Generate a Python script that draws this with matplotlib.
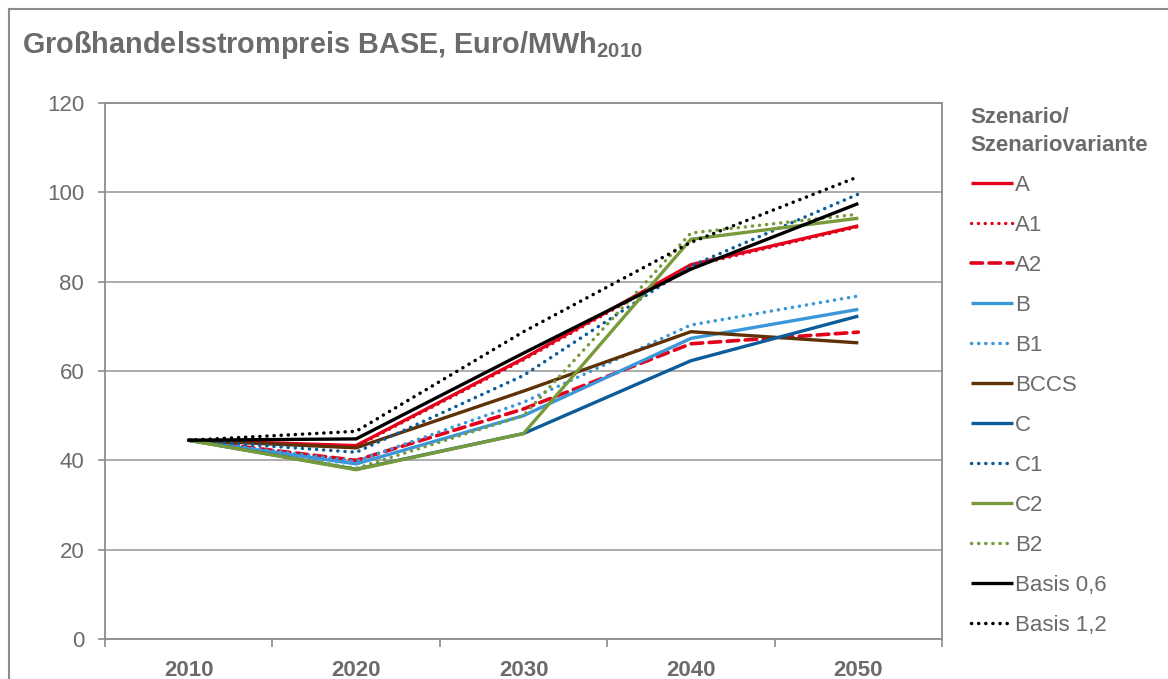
import matplotlib
matplotlib.use("Agg")
import matplotlib.pyplot as plt
from matplotlib.lines import Line2D

plt.rcParams['font.family'] = ['Liberation Sans', 'DejaVu Sans']
plt.rcParams['mathtext.fontset'] = 'custom'
plt.rcParams['mathtext.rm'] = 'Liberation Sans'
plt.rcParams['mathtext.bf'] = 'Liberation Sans:bold'

years = ['2010', '2020', '2030', '2040', '2050']
series_names = ['A', 'A1', 'A2', 'B', 'B1', 'BCCS', 'C', 'C1', 'C2', 'B2', 'Basis 0,6', 'Basis 1,2']
A_vals = [44.5, 43.3, 62.8, 83.8, 92.5]
A1_vals = [44.5, 43.1, 62.5, 83.5, 92.3]
A2_vals = [44.5, 40.0, 51.5, 66.1, 68.7]
B_vals = [44.5, 39.2, 50.0, 67.3, 73.8]
B1_vals = [44.5, 39.8, 53.0, 70.3, 76.8]
BCCS_vals = [44.5, 42.8, 55.5, 68.8, 66.3]
C_vals = [44.5, 38.0, 46.0, 62.3, 72.3]
C1_vals = [44.5, 41.8, 59.0, 83.5, 99.6]
C2_vals = [44.5, 37.9, 46.0, 89.5, 94.2]
B2_vals = [44.5, 38.2, 50.0, 90.9, 95.1]
Basis06_vals = [44.5, 44.8, 64.0, 82.8, 97.5]
Basis12_vals = [44.5, 46.5, 68.8, 88.8, 103.5]

RED = '#E2001A'
LBLUE = '#3A97DA'
BROWN = '#5E3206'
DBLUE = '#0B5C99'
GREEN = '#779A3A'
BLACK = '#000000'
GRAY_TXT = '#6B6B6B'

dot = (0, (0.05, 2.0))
dash = (0, (3.2, 1.8))
styles = [
    (A_vals, RED, '-', 2.4),
    (A1_vals, RED, dot, 2.4),
    (A2_vals, RED, dash, 2.6),
    (B_vals, LBLUE, '-', 2.4),
    (B1_vals, LBLUE, dot, 2.5),
    (BCCS_vals, BROWN, '-', 2.4),
    (C_vals, DBLUE, '-', 2.4),
    (C1_vals, DBLUE, dot, 2.5),
    (C2_vals, GREEN, '-', 2.4),
    (B2_vals, GREEN, dot, 2.5),
    (Basis06_vals, BLACK, '-', 2.4),
    (Basis12_vals, BLACK, dot, 2.5),
]

fig = plt.figure(figsize=(11.68, 6.79), dpi=100)
ax = fig.add_axes([105/1168, 1-639/679, (942-105)/1168, (639-103)/679])

x = list(range(len(years)))
handles = []
for (vals, col, ls, lw), name in zip(styles, series_names):
    ln, = ax.plot(x, vals, color=col, linestyle=ls, linewidth=lw,
                  solid_capstyle='butt', dash_capstyle='round', label=name)
    handles.append(ln)

ax.set_xlim(-0.5, 4.5)
ax.set_ylim(0, 120)
ax.set_yticks(range(0, 121, 20))
ax.set_xticks(x)
ax.set_xticklabels(years, fontweight='bold')
ax.set_xticks([i - 0.5 for i in range(6)], minor=True)
ax.tick_params(axis='x', which='major', length=0, pad=15, labelsize=16, colors=GRAY_TXT)
ax.tick_params(axis='x', which='minor', length=6, width=1.2, color='#8C8C8C', direction='out')
ax.tick_params(axis='y', length=5, width=1.2, color='#8C8C8C', pad=10, labelsize=16, labelcolor=GRAY_TXT)
ax.grid(axis='y', color='#A6A6A6', linewidth=1.3)
ax.set_axisbelow(True)
for s in ax.spines.values():
    s.set_color('#8C8C8C')
    s.set_linewidth(1.3)

fig.text(22/1168, 1-45/679, 'Großhandelsstrompreis BASE, Euro/MWh$_{\\mathbf{2010}}$',
         fontsize=20.8, fontweight='bold', color=GRAY_TXT, va='center', ha='left')

leg = ax.legend(handles=handles, loc='upper left', bbox_to_anchor=(964/1168, 1-100/679),
                bbox_transform=fig.transFigure, frameon=False, fontsize=16,
                handlelength=1.9, handletextpad=0.1, labelspacing=0.855,
                title='Szenario/\nSzenariovariante', alignment='left',
                borderaxespad=0, borderpad=0.3)
for t in leg.get_texts():
    t.set_color(GRAY_TXT)
leg.get_title().set_fontweight('bold')
leg.get_title().set_fontsize(16)
leg.get_title().set_color(GRAY_TXT)
leg.get_title().set_linespacing(1.45)

# outer chart frame (left and top edges visible)
fig.add_artist(Line2D([9/1168, 9/1168], [0, 1-9/679], transform=fig.transFigure,
                      color='#8C8C8C', linewidth=1.5))
fig.add_artist(Line2D([9/1168, 1], [1-9/679, 1-9/679], transform=fig.transFigure,
                      color='#8C8C8C', linewidth=1.5))

fig.savefig('out.png', dpi=100)
